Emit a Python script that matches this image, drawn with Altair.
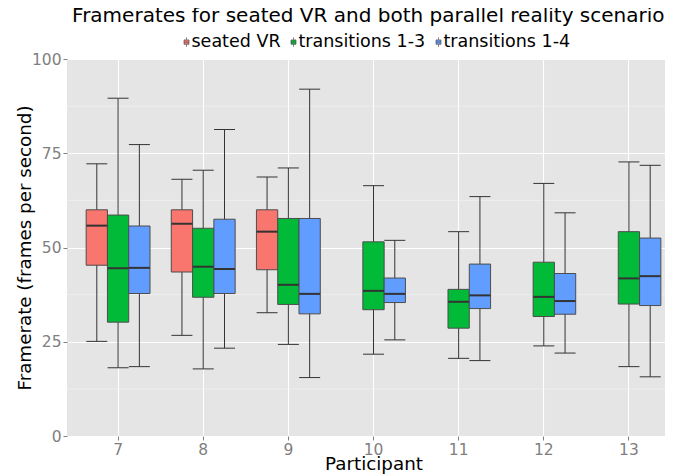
import altair as alt
import pandas as pd

participants = ["7", "8", "9", "10", "11", "12", "13"]
scenarios = ["seated VR", "transitions 1-3", "transitions 1-4"]
colors = ["#F8766D", "#00BA38", "#619CFF"]
y_ticks = [0, 25, 50, 75, 100]
y_minor = [12.5, 37.5, 62.5, 87.5]

# per participant: [whisker low, Q1, median, Q3, whisker high]
seated_vr = {
    "7": [25.1, 45.3, 55.8, 60.0, 72.2],
    "8": [26.7, 43.5, 56.3, 60.0, 68.1],
    "9": [32.7, 44.1, 54.2, 60.0, 68.7],
}
transitions_13 = {
    "7": [18.1, 30.2, 44.5, 58.6, 89.6],
    "8": [17.8, 36.8, 44.9, 55.1, 70.5],
    "9": [24.3, 34.9, 40.1, 57.7, 71.1],
    "10": [21.7, 33.5, 38.5, 51.5, 66.4],
    "11": [20.6, 28.6, 35.6, 38.9, 54.2],
    "12": [23.9, 31.7, 36.9, 46.1, 67.0],
    "13": [18.4, 35.0, 41.8, 54.2, 72.7],
}
transitions_14 = {
    "7": [18.4, 37.8, 44.6, 55.7, 77.3],
    "8": [23.3, 37.8, 44.3, 57.5, 81.3],
    "9": [15.5, 32.4, 37.7, 57.7, 92.0],
    "10": [25.5, 35.4, 37.7, 41.9, 51.9],
    "11": [20.0, 33.8, 37.3, 45.6, 63.5],
    "12": [22.0, 32.3, 35.8, 43.1, 59.2],
    "13": [15.7, 34.6, 42.4, 52.5, 71.8],
}

rows = []
for name, d in zip(scenarios, [seated_vr, transitions_13, transitions_14]):
    for p, (lo, q1, med, q3, hi) in d.items():
        rows.append(dict(Participant=p, Scenario=name, low=lo, q1=q1,
                         median=med, q3=q3, high=hi))
df = pd.DataFrame(rows)
minor_df = pd.DataFrame({"v": y_minor})

FONT = "DejaVu Sans"
GREY = "#7F7F7F"
DARK = "#333333"

x_axis = alt.Axis(title="Participant", labelAngle=0, values=participants,
                  grid=True, gridColor="white", gridWidth=1.1,
                  tickColor=GREY, tickSize=4, tickWidth=1,
                  labelColor=GREY, labelFont=FONT, labelFontSize=15.5, labelPadding=2,
                  domain=False, titleFont=FONT, titleFontSize=18.3,
                  titleFontWeight="normal", titleColor="black",
                  titleBaseline="alphabetic", titleY=33)
y_axis = alt.Axis(title="Framerate (frames per second)", values=y_ticks,
                  grid=True, gridColor="white", gridWidth=1.1,
                  tickColor=GREY, tickSize=4, tickWidth=1,
                  labelColor=GREY, labelFont=FONT, labelFontSize=15.5, labelPadding=2,
                  domain=False, titleFont=FONT, titleFontSize=18.3,
                  titleFontWeight="normal", titleColor="black",
                  titleBaseline="alphabetic", titleX=-36.6)

x_scale = alt.Scale(domain=participants, paddingInner=0.25, paddingOuter=0.225)
y_scale = alt.Scale(domain=[0, 100], nice=False, zero=False)


def X():
    return alt.X("Participant:N", sort=participants, scale=x_scale, axis=x_axis)


def XO():
    return alt.XOffset("Scenario:N", sort=scenarios, scale=alt.Scale(domain=scenarios))


def Y(field):
    return alt.Y(f"{field}:Q", scale=y_scale, axis=y_axis)


minor = alt.Chart(minor_df).mark_rule(color="#F2F2F2", strokeWidth=0.7).encode(
    y=alt.Y("v:Q", scale=y_scale, axis=y_axis)
)

base = alt.Chart(df)

whisk = base.mark_rule(color=DARK, strokeWidth=1).encode(
    x=X(), xOffset=XO(), y=Y("low"), y2="high"
)

# small boxplot glyph for the legend keys (symbolSize 1 -> 1 unit = 0.5px),
# nudged right so it sits close to its label
box_path = ("M2.5,-4.4L12.5,-4.4L12.5,4.4L2.5,4.4Z"
            "M7.5,-9.6L7.5,-4.4M7.5,4.4L7.5,9.6M2.5,0L12.5,0")

legend = alt.Legend(
    title=None, symbolType=box_path, orient="none", legendX=107, legendY=-26,
    direction="horizontal", labelFont=FONT, labelFontSize=17.5, labelColor="black",
    labelOffset=0, columnPadding=0, symbolSize=1, symbolOpacity=1,
    symbolStrokeColor="#555555", symbolStrokeWidth=0.7, padding=0, symbolOffset=0,
)

boxes = base.mark_bar(stroke="#4D4D4D", strokeWidth=1, opacity=1).encode(
    x=X(), xOffset=XO(), y=Y("q1"), y2="q3",
    color=alt.Color("Scenario:N", sort=scenarios,
                    scale=alt.Scale(domain=scenarios, range=colors),
                    legend=legend)
)

cap_lo = base.mark_tick(color=DARK, size=21, thickness=1, opacity=1).encode(
    x=X(), xOffset=XO(), y=Y("low"))
cap_hi = base.mark_tick(color=DARK, size=21, thickness=1, opacity=1).encode(
    x=X(), xOffset=XO(), y=Y("high"))
med = base.mark_tick(color=DARK, size=21, thickness=2, opacity=1).encode(
    x=X(), xOffset=XO(), y=Y("median"))

chart = alt.layer(minor, whisk, boxes, cap_lo, cap_hi, med).properties(
    width=613, height=377,
    background="white",
    autosize=alt.AutoSizeParams(type="none"),
    padding={"left": 59, "top": 51, "right": -15, "bottom": 39},
    title=alt.TitleParams("Framerates for seated VR and both parallel reality scenarios",
                          font=FONT, fontSize=20, fontWeight="normal", color="black",
                          anchor="middle", frame="group", baseline="alphabetic",
                          offset=10, dy=19),
).configure_view(fill="#E5E5E5", strokeWidth=0)

chart.save("out.html", embed_options={"renderer": "svg", "actions": False})
